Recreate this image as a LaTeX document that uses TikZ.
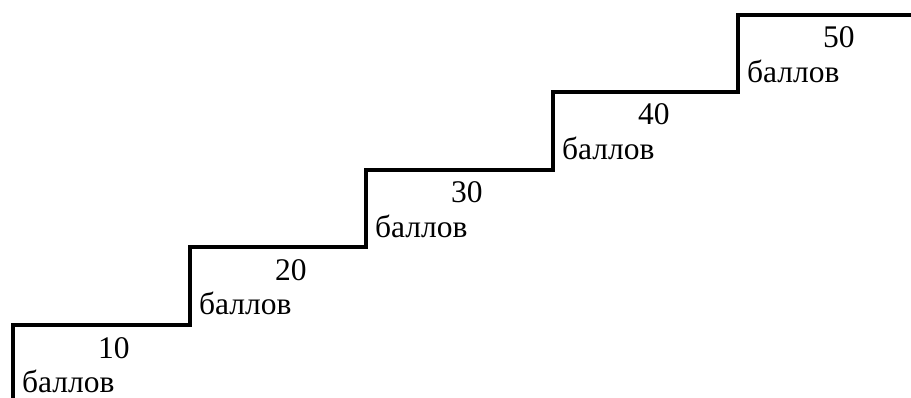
\documentclass[tikz,border=0pt]{standalone}
\usepackage{fontspec}
\setmainfont{Liberation Serif}
\tikzset{
  stair/.style={line width=3.4pt, line join=miter},
  score/.style={font=\fontsize{31.5}{34}\selectfont, anchor=base west, inner sep=0pt, text depth=0pt},
}
\begin{document}
\begin{tikzpicture}[x=1pt,y=1pt]
\useasboundingbox (0,0) rectangle (911,397);
\clip (0,0) rectangle (911,397);
% staircase, corners of each tread
\coordinate (c1) at (13,72);
\coordinate (c2) at (190,150);
\coordinate (c3) at (366,227);
\coordinate (c4) at (553,305);
\coordinate (c5) at (738,382);
\coordinate (s0) at (13,-5);
\coordinate (e) at (915,382);
\draw[stair] (s0) -- (c1) -| (c2) -| (c3) -| (c4) -| (c5) -- (e);
% labels on each step
\foreach \i/\v in {1/10,2/20,3/30,4/40,5/50}{
  \node[score] (n\i) at ([shift={(85,-33)}]c\i) {\v};
  \node[score] (b\i) at ([shift={(9,-67.5)}]c\i) {баллов};
}
\end{tikzpicture}
\end{document}
